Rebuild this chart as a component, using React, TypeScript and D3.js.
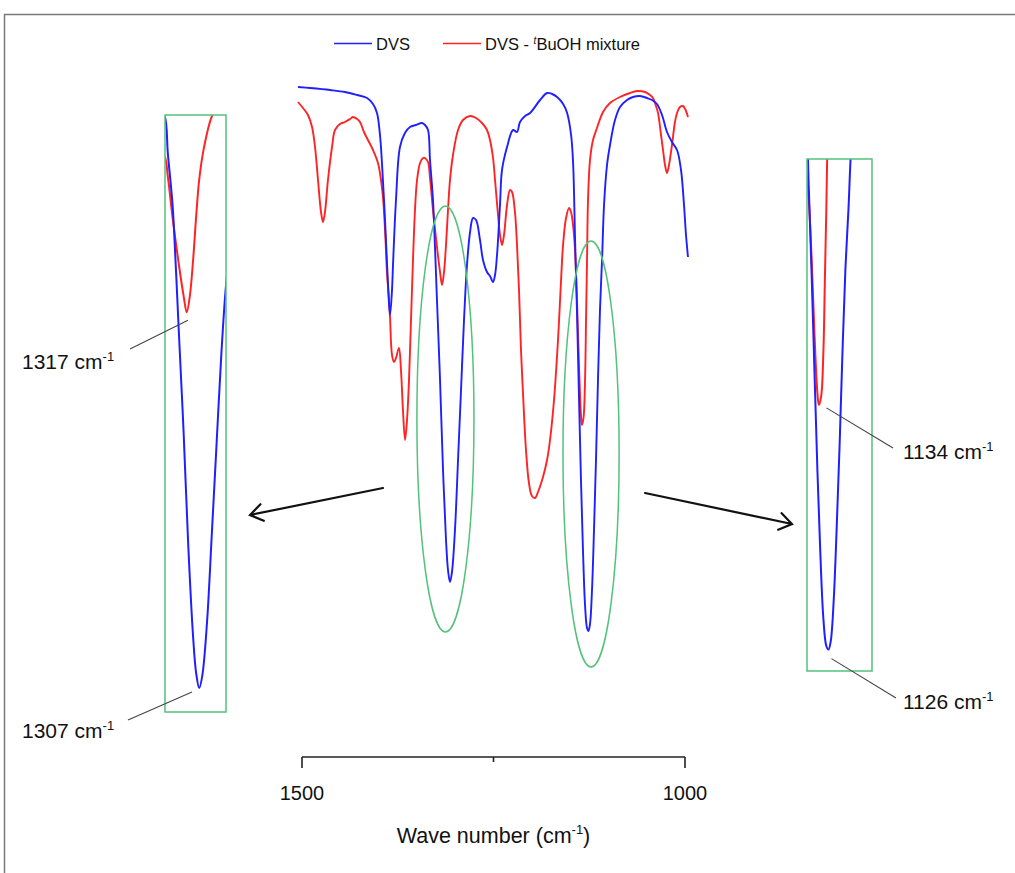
import React, { Component, createRef } from 'react'
import * as d3 from 'd3'

// [wave number (cm-1), transmittance (a.u.)]
const dvsSpectrum: [number, number][] = [
  [1505.2, 613], [1489.6, 612], [1463.4, 610], [1443.9, 608], [1428.2, 605], [1415.1, 602],
  [1407.3, 596], [1402.1, 587], [1398.2, 565], [1395.6, 537], [1391.6, 480], [1387.7, 415],
  [1385.1, 385], [1382.5, 410], [1381.2, 435], [1377.3, 500], [1372.1, 553], [1365.6, 567],
  [1359.0, 573], [1351.2, 575], [1343.3, 577], [1339.4, 575], [1335.5, 570], [1332.9, 540],
  [1329.0, 500], [1326.4, 453], [1323.8, 400], [1319.8, 320], [1315.9, 230], [1312.0, 160],
  [1309.4, 130], [1306.8, 118], [1304.2, 128], [1300.3, 170], [1296.3, 240], [1292.4, 310],
  [1288.5, 380], [1284.6, 435], [1280.6, 468], [1276.7, 482], [1272.8, 480], [1267.6, 460],
  [1263.7, 440], [1258.5, 428], [1254.6, 424], [1250.6, 418], [1248.0, 425], [1245.4, 445],
  [1241.5, 495], [1238.9, 530], [1232.3, 553], [1224.5, 570], [1219.3, 568], [1215.4, 578],
  [1208.8, 584], [1202.3, 587], [1189.2, 600], [1180.0, 607], [1173.5, 606], [1167.0, 603],
  [1159.1, 596], [1153.9, 587], [1148.7, 565], [1146.1, 537], [1143.5, 460], [1140.9, 385],
  [1138.3, 300], [1135.8, 220], [1133.2, 150], [1130.5, 95], [1127.9, 72], [1126.0, 69],
  [1124.0, 76], [1121.4, 110], [1118.8, 170], [1116.2, 240], [1113.6, 320], [1111.0, 390],
  [1108.3, 440], [1105.7, 495], [1101.8, 535], [1097.9, 555], [1091.4, 580], [1084.8, 593],
  [1075.7, 600], [1067.9, 603], [1058.7, 604], [1049.6, 602], [1043.1, 600], [1036.6, 596],
  [1030.0, 585], [1023.5, 568], [1017.0, 558], [1010.4, 550], [1005.2, 530], [1001.3, 495],
  [998.7, 465], [996.1, 443]
]

const mixtureSpectrum: [number, number][] = [
  [1505.2, 598], [1498.7, 592], [1492.2, 585], [1486.9, 573], [1483.0, 553], [1479.1, 520],
  [1475.2, 488], [1472.6, 478], [1470.0, 488], [1466.1, 520], [1460.8, 553], [1456.9, 570],
  [1450.4, 576], [1443.9, 578], [1437.3, 581], [1433.4, 583], [1428.2, 581], [1424.3, 578],
  [1419.1, 568], [1413.9, 560], [1407.3, 550], [1400.8, 537], [1396.9, 520], [1394.3, 503],
  [1391.6, 470], [1389.0, 427], [1386.4, 400], [1385.1, 383], [1382.5, 345], [1379.9, 338],
  [1377.3, 342], [1373.4, 352], [1370.8, 330], [1368.2, 290], [1365.5, 260], [1362.9, 280],
  [1360.3, 320], [1357.7, 380], [1355.1, 440], [1352.5, 490], [1349.8, 520], [1345.9, 537],
  [1342.0, 542], [1339.4, 542], [1335.5, 538], [1332.9, 522], [1329.0, 490], [1323.8, 453],
  [1319.8, 428], [1317.2, 415], [1314.6, 428], [1312.0, 455], [1309.4, 490], [1306.8, 520],
  [1302.9, 545], [1296.3, 570], [1289.8, 580], [1280.6, 584], [1272.8, 582], [1265.0, 577],
  [1258.5, 570], [1254.6, 560], [1250.6, 542], [1248.0, 520], [1244.1, 485], [1241.5, 465],
  [1238.9, 455], [1236.3, 465], [1232.3, 495], [1228.4, 510], [1225.8, 508], [1221.9, 487],
  [1219.3, 455], [1216.7, 410], [1214.1, 350], [1211.5, 307], [1207.6, 250], [1203.7, 217],
  [1199.8, 204], [1195.8, 202], [1191.9, 208], [1185.4, 223], [1180.1, 240], [1176.2, 260],
  [1171.0, 300], [1165.8, 360], [1161.8, 420], [1159.2, 455], [1155.3, 482], [1151.4, 492],
  [1148.8, 488], [1146.2, 475], [1143.6, 450], [1141.0, 400], [1138.4, 335], [1135.8, 285],
  [1134.5, 275], [1132.5, 282], [1130.5, 320], [1129.2, 380], [1127.9, 440], [1126.6, 500],
  [1124.0, 540], [1120.1, 560], [1114.9, 572], [1107.0, 588], [1097.9, 597], [1084.9, 603],
  [1071.8, 607], [1062.7, 609], [1052.2, 608], [1045.7, 605], [1041.8, 602], [1037.9, 594],
  [1035.2, 587], [1031.3, 565], [1028.7, 550], [1026.1, 535], [1023.5, 527], [1020.9, 535],
  [1017.0, 555], [1013.1, 578], [1010.4, 587], [1006.5, 593], [1002.6, 594], [998.7, 589],
  [996.1, 583]
]

const tickValues = [1500, 1250, 1000]
const tickLabels = ['1500', '', '1000']
const seriesNames = ['DVS', 'DVS - ', 't', 'BuOH mixture']
const seriesColors = ['#1f1fff', '#ff2424']

// peaks that get a zoomed box: [wave number, transmittance at minimum]
const leftPeaks: [number, number][] = [[1317, 415], [1307, 118]]
const rightPeaks: [number, number][] = [[1134, 275], [1126, 69]]

// circled regions: wave number span and transmittance span
const ellipseWn: [number, number][] = [[1350, 1275.5], [1159.3, 1086]]
const ellipseT: [number, number][] = [[68, 494], [33, 459]]

const GREEN = '#52c27c'
const FONT = '"Liberation Sans", Arial, sans-serif'

class App extends Component {
  svgRef = createRef<SVGSVGElement>()

  componentDidMount() {
    this.renderChart()
  }

  componentDidUpdate() {
    this.renderChart()
  }

  renderChart() {
    const svg = d3.select(this.svgRef.current)
    svg.selectAll('*').remove()

    // frame
    svg.append('path').attr('d', 'M4.5,873 V14.5 H1015')
      .attr('fill', 'none').attr('stroke', '#7a7a7a').attr('stroke-width', 1.5)

    const x = d3.scaleLinear().domain([1500, 1000]).range([302, 685])
    const y = d3.scaleLinear().domain([0, 600]).range([700, 100])

    const drawSpectra = (g: any, xs: any, ys: any, w: number) => {
      const line = d3.line<[number, number]>()
        .x(d => xs(d[0])).y(d => ys(d[1]))
        .curve(d3.curveCatmullRom.alpha(0.5))
      g.append('path').datum(mixtureSpectrum).attr('d', line)
        .attr('fill', 'none').attr('stroke', seriesColors[1]).attr('stroke-width', w)
      g.append('path').datum(dvsSpectrum).attr('d', line)
        .attr('fill', 'none').attr('stroke', seriesColors[0]).attr('stroke-width', w)
    }

    // main spectra
    drawSpectra(svg.append('g'), x, y, 1.9)

    // green ellipses around the two peaks
    ellipseWn.forEach((wn, i) => {
      const x0 = x(wn[0]), x1 = x(wn[1])
      const y0 = y(ellipseT[i][1]), y1 = y(ellipseT[i][0])
      svg.append('ellipse')
        .attr('cx', (x0 + x1) / 2).attr('cy', (y0 + y1) / 2)
        .attr('rx', (x1 - x0) / 2).attr('ry', (y1 - y0) / 2)
        .attr('fill', 'none').attr('stroke', GREEN).attr('stroke-width', 1.5)
    })

    // x axis
    const axisY = 757
    const ag = svg.append('g')
    ag.append('line').attr('x1', x(1500)).attr('x2', x(1000)).attr('y1', axisY).attr('y2', axisY)
      .attr('stroke', '#222').attr('stroke-width', 1.6)
    tickValues.forEach((t, i) => {
      ag.append('line').attr('x1', x(t)).attr('x2', x(t))
        .attr('y1', axisY).attr('y2', axisY + (tickLabels[i] ? 11 : 5))
        .attr('stroke', '#222').attr('stroke-width', 1.6)
      if (tickLabels[i]) {
        ag.append('text').attr('x', x(t)).attr('y', 800).attr('text-anchor', 'middle')
          .style('font-family', FONT).style('font-size', '20px').attr('fill', '#111')
          .text(tickLabels[i])
      }
    })
    const title = ag.append('text').attr('x', x(1250)).attr('y', 843).attr('text-anchor', 'middle')
      .style('font-family', FONT).style('font-size', '21.5px').attr('fill', '#111')
    title.append('tspan').text('Wave number (cm')
    title.append('tspan').attr('dy', -9).style('font-size', '13px').text('-1')
    title.append('tspan').attr('dy', 9).text(')')

    // legend
    const lg = svg.append('g')
    lg.append('line').attr('x1', 334).attr('x2', 372).attr('y1', 43.5).attr('y2', 43.5)
      .attr('stroke', seriesColors[0]).attr('stroke-width', 1.5)
    lg.append('text').attr('x', 376).attr('y', 50).style('font-family', FONT)
      .style('font-size', '16.5px').attr('fill', '#111').text(seriesNames[0])
    lg.append('line').attr('x1', 443).attr('x2', 481).attr('y1', 43.5).attr('y2', 43.5)
      .attr('stroke', seriesColors[1]).attr('stroke-width', 1.5)
    const lt = lg.append('text').attr('x', 485).attr('y', 50).style('font-family', FONT)
      .style('font-size', '16.5px').attr('fill', '#111').attr('xml:space', 'preserve')
    lt.append('tspan').text(seriesNames[1])
    lt.append('tspan').attr('dy', -6).style('font-size', '10px').style('font-style', 'italic').text(seriesNames[2])
    lt.append('tspan').attr('dy', 6).text(seriesNames[3])

    // zoom boxes
    const insets = [
      { box: [165, 115, 226, 712], wn: [1335.3, 1284.5], t: [99, 571], peaks: leftPeaks, id: 'clipL' },
      { box: [807, 159, 872, 671], wn: [1145, 1087.5], t: [51, 482], peaks: rightPeaks, id: 'clipR' }
    ]
    const defs = svg.append('defs')
    const scales: any[] = []
    insets.forEach(ins => {
      const [bx0, by0, bx1, by1] = ins.box
      const xs = d3.scaleLinear().domain(ins.wn).range([bx0, bx1])
      const ys = d3.scaleLinear().domain(ins.t).range([by1, by0])
      scales.push({ xs, ys })
      defs.append('clipPath').attr('id', ins.id).append('rect')
        .attr('x', bx0).attr('y', by0).attr('width', bx1 - bx0).attr('height', by1 - by0)
      drawSpectra(svg.append('g').attr('clip-path', `url(#${ins.id})`), xs, ys, 2)
      svg.append('rect').attr('x', bx0).attr('y', by0).attr('width', bx1 - bx0).attr('height', by1 - by0)
        .attr('fill', 'none').attr('stroke', GREEN).attr('stroke-width', 1.5)
    })

    // peak labels with leader lines
    const L = scales[0], R = scales[1]
    const labels = [
      { p: leftPeaks[0], s: L, from: [130, 349], off: [1, 8], tx: 22, ty: 369 },
      { p: leftPeaks[1], s: L, from: [128, 720], off: [-7, 4], tx: 22, ty: 738 },
      { p: rightPeaks[0], s: R, from: [893, 448], off: [7, 3], tx: 903, ty: 459 },
      { p: rightPeaks[1], s: R, from: [896, 698], off: [3, 9], tx: 903, ty: 709 }
    ]
    labels.forEach(l => {
      svg.append('line')
        .attr('x1', l.from[0]).attr('y1', l.from[1])
        .attr('x2', l.s.xs(l.p[0]) + l.off[0]).attr('y2', l.s.ys(l.p[1]) + l.off[1])
        .attr('stroke', '#444').attr('stroke-width', 1.1)
      const t = svg.append('text').attr('x', l.tx).attr('y', l.ty)
        .style('font-family', FONT).style('font-size', '21px').attr('fill', '#111')
      t.append('tspan').text(`${l.p[0]} cm`)
      t.append('tspan').attr('dy', -8).style('font-size', '13px').text('-1')
    })

    // arrows from the circled peaks to the zoom boxes
    const arrows = [[[383, 488], [250, 515]], [[645, 493], [792, 524]]]
    arrows.forEach(([a, b]) => {
      const ang = Math.atan2(b[1] - a[1], b[0] - a[0])
      const len = 15, spread = 0.6
      const p1 = [b[0] - len * Math.cos(ang - spread), b[1] - len * Math.sin(ang - spread)]
      const p2 = [b[0] - len * Math.cos(ang + spread), b[1] - len * Math.sin(ang + spread)]
      svg.append('path')
        .attr('d', `M${a[0]},${a[1]} L${b[0]},${b[1]} M${p1[0]},${p1[1]} L${b[0]},${b[1]} L${p2[0]},${p2[1]}`)
        .attr('fill', 'none').attr('stroke', '#111').attr('stroke-width', 2.2)
        .attr('stroke-linecap', 'round')
    })
  }

  render() {
    return (
      <svg ref={this.svgRef} width={1015} height={873}
        style={{ position: 'absolute', left: 0, top: 0, display: 'block', background: '#fff' }} />
    )
  }
}

export default App
